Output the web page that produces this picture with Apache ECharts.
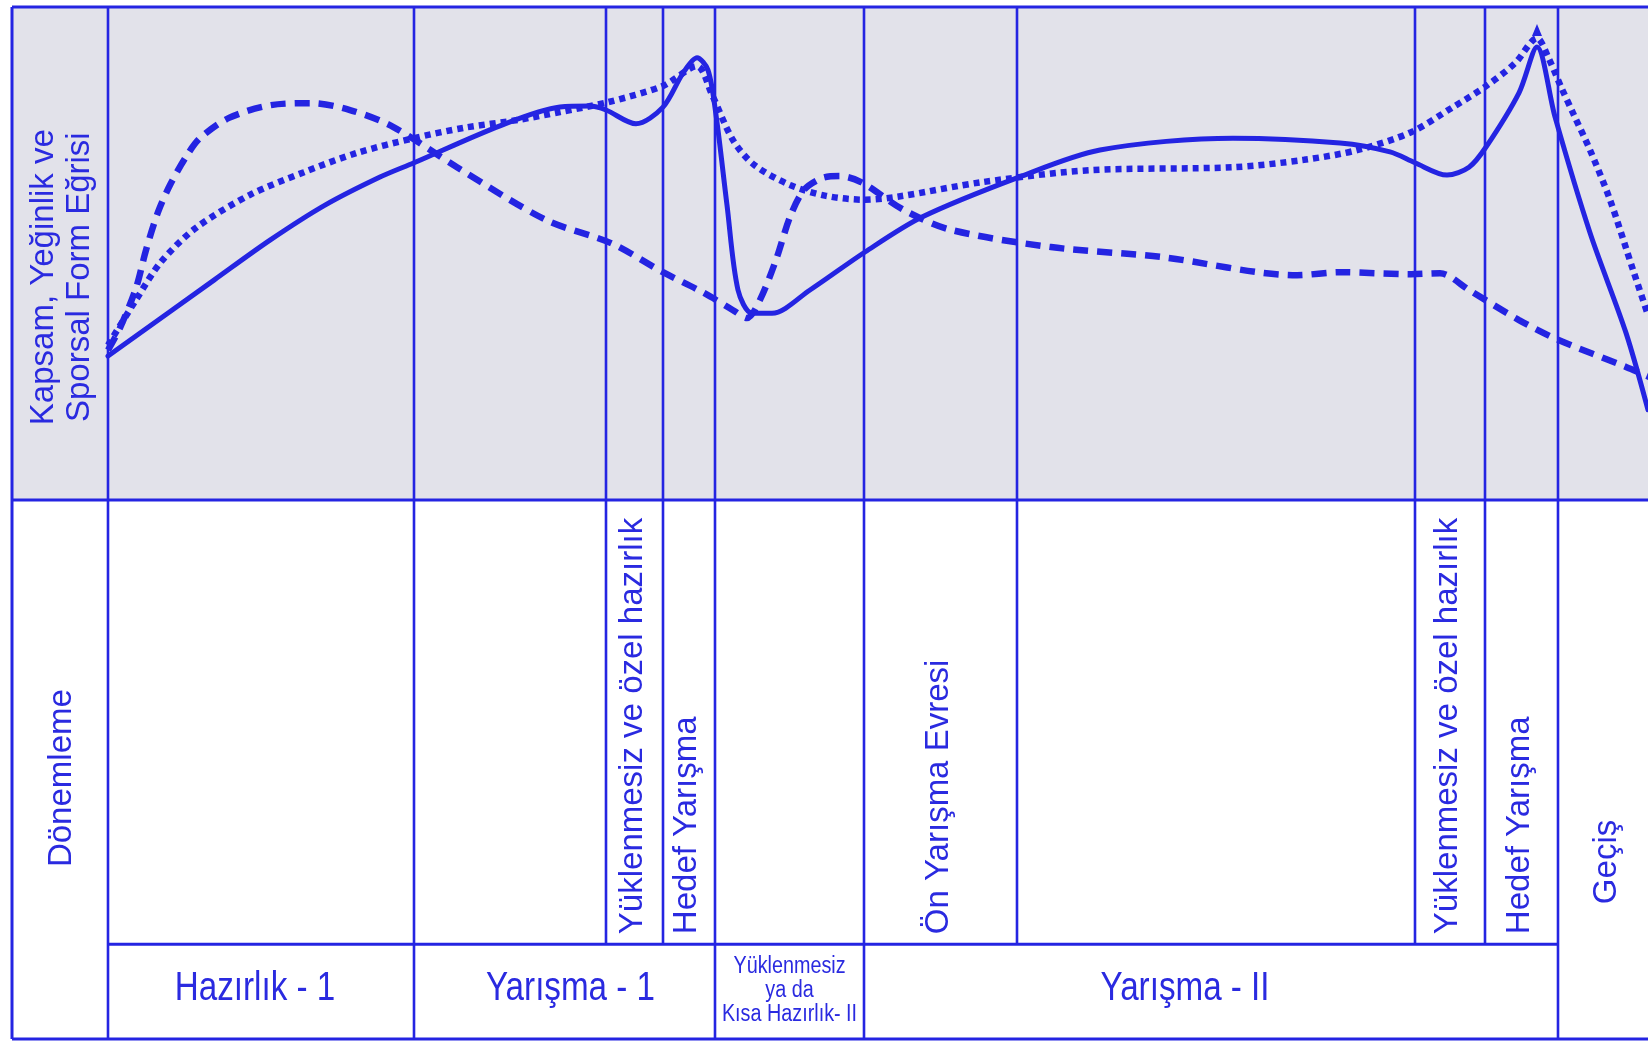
<!DOCTYPE html>
<html>
<head>
<meta charset="utf-8">
<script src="https://cdn.jsdelivr.net/npm/echarts@6/dist/echarts.min.js"></script>
<style>
html,body{margin:0;padding:0;background:#ffffff;}
#chart{width:1648px;height:1041px;}
</style>
</head>
<body>
<div id="chart"></div>
<script>
// ---------- DATA ----------
// x: time (weeks, arbitrary units), y: level (0..100)
const solidCurve = [
  [0, 29.2],[10.6, 44.6],[16.2, 52.7],[21.7, 59.8],[27.2, 65.5],[30.6, 68.4],[39.2, 75.9],[45.2, 79.7],
  [48.2, 79.9],[49.8, 79.1],[52.8, 76.3],[55.5, 79.7],[57.5, 86.6],[58.9, 89.7],[60.0, 87.2],[60.8, 78.1],
  [61.9, 59.8],[63.0, 42.6],[64.4, 37.9],[66.4, 37.9],[70.2, 42.6],[75.7, 50.3],[81.4, 57.4],[91.1, 65.5],
  [99.2, 71.0],[112.5, 73.4],[123.2, 72.4],[128.2, 70.6],[130.7, 68.4],[133.9, 65.9],[136.1, 67.5],
  [137.8, 71.6],[141.1, 82.6],[142.9, 91.9],[144.7, 77.7],[148.2, 54.2],[151.8, 33.9],[154.0, 18.3]
];
const dashedCurve = [
  [0, 30.4],[1.2, 34.9],[2.8, 43.0],[3.8, 50.7],[5.0, 58.4],[6.2, 63.9],[7.8, 69.6],[9.2, 73.4],
  [12.1, 77.5],[16.3, 80.1],[20.3, 80.5],[24.2, 79.1],[28.5, 75.7],[34.9, 67.5],[43.8, 56.8],[50.3, 52.1],
  [55.5, 46.2],[59.6, 42.0],[62.5, 38.5],[63.9, 36.9],[65.2, 40.6],[66.8, 48.7],[68.2, 57.4],[69.6, 62.9],
  [71.4, 65.3],[73.2, 65.7],[75.3, 64.5],[79.6, 58.8],[84.3, 54.8],[94.3, 51.3],[105.3, 49.3],[118.9, 45.6],
  [123.2, 46.2],[130.3, 45.8],[133.2, 46.0],[136.1, 42.6],[141.1, 36.5],[145.0, 32.5],[151.8, 27.0],[154.2, 24.9]
];
const dottedCurve = [
  [0, 31.4],[2.8, 40.6],[5.3, 48.3],[8.8, 55.2],[14.2, 61.9],[19.6, 66.5],[24.9, 70.4],[30.6, 73.4],
  [35.6, 75.5],[41.0, 77.1],[45.2, 78.7],[50.0, 80.7],[55.5, 84.0],[58.9, 88.0],[60.4, 82.2],[62.5, 73.0],
  [64.6, 68.0],[68.2, 63.9],[71.8, 61.7],[75.7, 60.9],[78.9, 61.5],[87.5, 64.5],[98.2, 66.9],[112.5, 67.5],
  [119.6, 69.0],[125.0, 71.0],[130.3, 74.6],[134.5, 79.7],[137.7, 83.8],[140.7, 88.6],[142.9, 93.7],
  [144.0, 89.9],[145.3, 83.8],[146.5, 78.5],[148.2, 71.0],[150.2, 60.9],[152.5, 46.7],[154.0, 37.5]
];
// column edges of the table (weeks)
const edges = [-9.6, 0, 30.6, 49.8, 55.5, 60.7, 75.6, 90.9, 130.7, 137.7, 145.0];
const edgeInBottomRow = [true, true, true, false, false, true, true, false, false, false, true];
const sideLabelTop = 'Kapsam, Yeğinlik ve\nSporsal Form Eğrisi';
const sideLabelBottom = 'Dönemleme';
const phases = [
  {name: 'Yüklenmesiz ve özel hazırlık', from: 49.8, to: 55.5},
  {name: 'Hedef Yarışma', from: 55.5, to: 60.7},
  {name: 'Ön Yarışma Evresi', from: 75.6, to: 90.9},
  {name: 'Yüklenmesiz ve özel hazırlık', from: 130.7, to: 137.7},
  {name: 'Hedef Yarışma', from: 137.7, to: 145.0},
  {name: 'Geçiş', from: 145.0, to: 155.2}
];
const periods = [
  {name: 'Hazırlık - 1', from: 0, to: 30.6},
  {name: 'Yarışma - 1', from: 30.6, to: 60.7},
  {name: 'Yüklenmesiz\nya da\nKısa Hazırlık- II', from: 60.7, to: 75.6},
  {name: 'Yarışma - II', from: 75.6, to: 145.0}
];

// ---------- STYLE / LAYOUT ----------
const X_MIN = -9.6, X_MAX = 154.0;
const ROW_SPLIT = 82.4;            // lower table: boundary between rows (0..100 scale)
const BLUE = '#2424e2';
const TEXT_BLUE = '#2a2ae0';
const FONT = '"Liberation Sans", Arial, Helvetica, sans-serif';
const FRAME_W = 3;

function ln(x1, y1, x2, y2, w) {
  return {type: 'line', shape: {x1, y1, x2, y2}, style: {stroke: BLUE, lineWidth: w || FRAME_W}, silent: true};
}

function renderUpper(params, api) {
  const ch = [];
  const yTop = api.coord([0, 100])[1];
  const yBot = api.coord([0, 0])[1];
  edges.forEach(e => {
    const x = api.coord([e, 0])[0];
    ch.push(ln(x, yTop, x, yBot, e === edges[0] ? 3 : 2.6));
  });
  const xl = api.coord([X_MIN, 0])[0], xr = api.coord([X_MAX, 0])[0];
  ch.push(ln(xl, yTop, xr + 5, yTop));
  ch.push(ln(xl, yBot, xr + 5, yBot));
  const c = api.coord([(edges[0] + edges[1]) / 2, 45.2]);
  ch.push({type: 'text', x: c[0] + 2, y: c[1], rotation: Math.PI / 2, silent: true,
    style: {text: sideLabelTop, fill: TEXT_BLUE, fontSize: 33, fontFamily: FONT, lineHeight: 36,
      align: 'center', verticalAlign: 'middle'}});
  return {type: 'group', children: ch};
}

function renderLower(params, api) {
  const ch = [];
  const yTop = api.coord([0, 0])[1];
  const ySplit = api.coord([0, ROW_SPLIT])[1];
  const yBot = api.coord([0, 100])[1];
  edges.forEach((e, i) => {
    const x = api.coord([e, 0])[0];
    ch.push(ln(x, yTop, x, edgeInBottomRow[i] ? yBot : ySplit, e === edges[0] ? 3 : 2.6));
  });
  const xl = api.coord([X_MIN, 0])[0], xr = api.coord([X_MAX, 0])[0];
  ch.push(ln(api.coord([edges[1], 0])[0], ySplit, api.coord([edges[edges.length - 1], 0])[0], ySplit));
  ch.push(ln(xl, yBot, xr + 5, yBot));
  // side label
  const s = api.coord([(edges[0] + edges[1]) / 2, 51.6]);
  ch.push({type: 'text', x: s[0] + 2, y: s[1], rotation: Math.PI / 2, silent: true,
    style: {text: sideLabelBottom, fill: TEXT_BLUE, fontSize: 33, fontFamily: FONT,
      align: 'center', verticalAlign: 'middle'}});
  // rotated phase labels
  phases.forEach(p => {
    const cx = api.coord([(p.from + p.to) / 2, 0])[0];
    const inBottom = p.to <= edges[edges.length - 1] + 0.01;
    const yb = inBottom ? ySplit - 10 : ySplit - 40;
    ch.push({type: 'text', x: cx - 2, y: yb, rotation: Math.PI / 2, silent: true,
      style: {text: p.name, fill: TEXT_BLUE, fontSize: 33, fontFamily: FONT,
        align: 'left', verticalAlign: 'middle'}});
  });
  // period labels (condensed)
  periods.forEach((p, i) => {
    const cx = api.coord([(p.from + p.to) / 2, 0])[0];
    const cy = (ySplit + yBot) / 2;
    const multi = p.name.indexOf('\n') >= 0;
    const nudge = [-6, 6, 0, -26][i];
    ch.push({type: 'text', x: cx + nudge, y: multi ? cy - 1 : cy - 3, scaleX: multi ? 0.86 : 0.83, silent: true,
      style: {text: p.name, fill: TEXT_BLUE, fontSize: multi ? 23 : 40, fontFamily: FONT,
        lineHeight: multi ? 24 : 44, align: 'center', verticalAlign: 'middle'}});
  });
  return {type: 'group', children: ch};
}

const chart = echarts.init(document.getElementById('chart'), null, {renderer: 'canvas'});
const hiddenAxis = {show: false, splitLine: {show: false}};
chart.setOption({
  animation: false,
  backgroundColor: '#ffffff',
  grid: [
    {left: 12, right: 0, top: 7, height: 493, show: true, backgroundColor: '#e2e2ea', borderWidth: 0},
    {left: 12, right: 0, top: 500, height: 539, show: false}
  ],
  xAxis: [
    Object.assign({type: 'value', min: X_MIN, max: X_MAX, gridIndex: 0}, hiddenAxis),
    Object.assign({type: 'value', min: X_MIN, max: X_MAX, gridIndex: 1}, hiddenAxis)
  ],
  yAxis: [
    Object.assign({type: 'value', min: 0, max: 100, gridIndex: 0}, hiddenAxis),
    Object.assign({type: 'value', min: 0, max: 100, inverse: true, gridIndex: 1}, hiddenAxis)
  ],
  series: [
    {type: 'custom', xAxisIndex: 0, yAxisIndex: 0, data: [[0, 0]], renderItem: renderUpper, clip: false, z: 1, silent: true},
    {type: 'custom', xAxisIndex: 1, yAxisIndex: 1, data: [[0, 0]], renderItem: renderLower, clip: false, z: 1, silent: true},
    {name: 'Kapsam', type: 'line', xAxisIndex: 0, yAxisIndex: 0, data: dashedCurve, showSymbol: false,
      smooth: 0.3, clip: true, z: 3,
      lineStyle: {color: BLUE, width: 6.5, type: [15, 9], cap: 'butt'}},
    {name: 'Yeğinlik', type: 'line', xAxisIndex: 0, yAxisIndex: 0, data: dottedCurve, showSymbol: false,
      smooth: 0.3, clip: true, z: 3,
      lineStyle: {color: BLUE, width: 6.5, type: [6, 5], cap: 'butt'},
      markPoint: {symbol: 'triangle', symbolSize: [10, 12], symbolOffset: [0, -8], silent: true,
        itemStyle: {color: BLUE}, label: {show: false},
        data: [{type: 'max', valueDim: 'y'}]}},
    {name: 'Sporsal Form', type: 'line', xAxisIndex: 0, yAxisIndex: 0, data: solidCurve, showSymbol: false,
      smooth: 0.3, clip: true, z: 4,
      lineStyle: {color: BLUE, width: 5, cap: 'round', join: 'round'}}
  ]
});
</script>
</body>
</html>
